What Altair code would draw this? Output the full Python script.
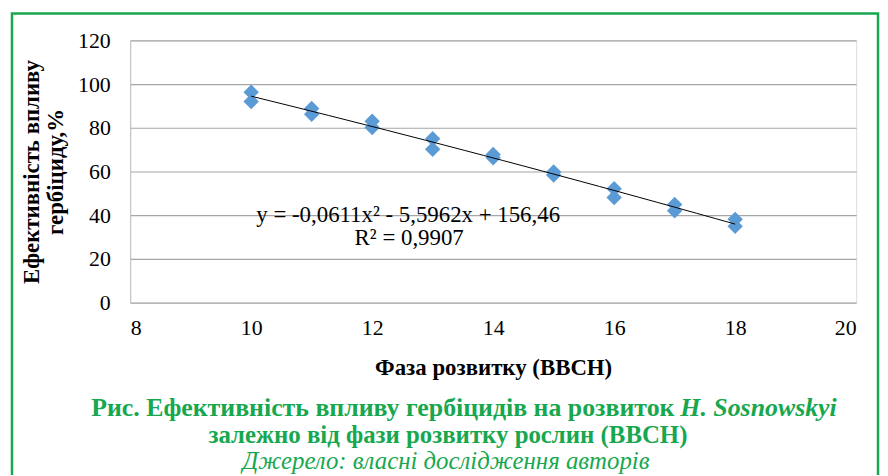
import altair as alt
import pandas as pd

# data
phase = [10, 10, 11, 11, 12, 12, 13, 13, 14, 14, 15, 15, 16, 16, 17, 17, 18, 18]
efficiency = [96.3, 92.0, 88.8, 86.2, 83.0, 80.1, 75.0, 70.2, 67.8, 66.3, 59.8, 58.4, 52.1, 48.1, 44.9, 42.0, 38.1, 34.9]
x_ticks = [8, 10, 12, 14, 16, 18, 20]
y_ticks = [0, 20, 40, 60, 80, 100, 120]
equation = "y = -0,0611x² - 5,5962x + 156,46"
r2 = "R² = 0,9907"
x_title = "Фаза розвитку (ВВСН)"
y_title = ["Ефективність впливу", "гербіциду,%"]
cap1a = "Рис. Ефективність впливу гербіцидів на розвиток"
cap1b = "H. Sosnowskyi"
cap2 = "залежно від фази розвитку рослин (ВВСН)"
cap3 = "Джерело: власні дослідження авторів"

df = pd.DataFrame({"x": phase, "y": efficiency})

GREEN = "#17A84F"
FONT = "Liberation Serif"
W, H = 731, 264

xs = alt.Scale(domain=[8, 20], nice=False)
ys = alt.Scale(domain=[0, 120], nice=False)

base = alt.Chart(df)

points = base.mark_point(shape="diamond", filled=True, size=240, opacity=1, color="#5B9BD5").encode(
    x=alt.X("x:Q", scale=xs, axis=alt.Axis(
        values=x_ticks, format="d", grid=False, ticks=False, domain=False, labelFont=FONT, labelFontSize=22,
        labelColor="black", labelPadding=15, title=x_title, titleFont=FONT, titleFontSize=23,
        titleFontWeight="bold", titleColor="black", titlePadding=18)),
    y=alt.Y("y:Q", scale=ys, axis=alt.Axis(
        values=y_ticks, format="d", grid=True, gridColor="#A6A6A6", gridWidth=1.2, ticks=False, domain=True,
        domainColor="#BFBFBF", labelFont=FONT, labelFontSize=22, labelColor="black", labelPadding=20,
        title=y_title, titleFont=FONT, titleFontSize=23, titleFontWeight="bold", titleColor="black",
        titlePadding=10, titleLineHeight=24)),
)

trend = base.transform_regression("x", "y", method="poly", order=2).mark_line(
    color="black", strokeWidth=1).encode(x=alt.X("x:Q", scale=xs), y=alt.Y("y:Q", scale=ys))

def txt(text, x, y, size=23, weight="normal", style="normal", color="black", align="left", font=FONT):
    return alt.Chart(pd.DataFrame({"t": [text]})).mark_text(
        font=font, fontSize=size, fontWeight=weight, fontStyle=style, color=color, align=align,
        baseline="alphabetic").encode(text="t:N", x=alt.value(x), y=alt.value(y))

eq = txt(equation, 127, 183)
rr = txt(r2, 226, 206)

c1a = txt(cap1a, 548, 378, size=26, weight="bold", color=GREEN, align="right")
c1b = txt(cap1b, 554, 378, size=26, weight="bold", style="italic", color=GREEN, align="left")
c2 = txt(cap2, 320, 405, size=25, weight="bold", color=GREEN, align="center")
c3 = txt(cap3, 318, 432, size=25, style="italic", color=GREEN, align="center")

border = alt.Chart(pd.DataFrame({"a": [0]})).mark_rect(
    fill=None, stroke=GREEN, strokeWidth=2.5).encode(
    x=alt.value(-119), x2=alt.value(753), y=alt.value(-27), y2=alt.value(480))

chart = alt.layer(border, points, trend, eq, rr, c1a, c1b, c2, c3).properties(
    width=W, height=H,
    autosize=alt.AutoSizeParams(type="none"),
    padding={"left": 123, "top": 31, "right": 24, "bottom": 172},
).configure_view(stroke=None).configure(background="white")

chart.save("out.html", embed_options={"renderer": "svg", "actions": False})
